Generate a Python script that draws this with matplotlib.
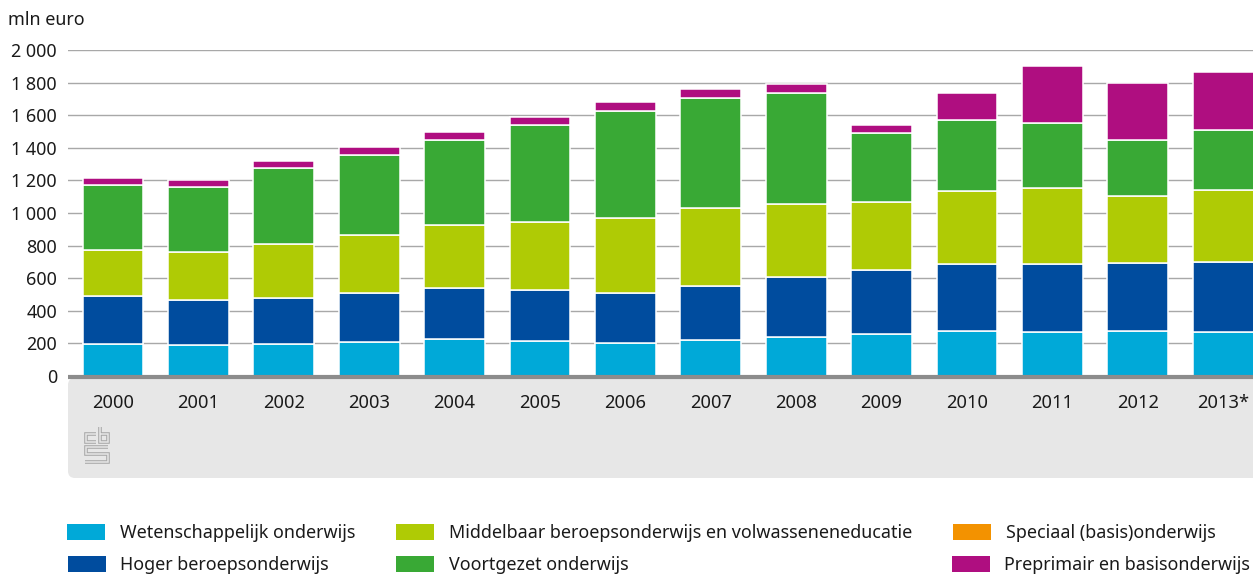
import matplotlib
matplotlib.use('Agg')
import numpy as np
import matplotlib.pyplot as plt
from matplotlib.patches import FancyBboxPatch, Rectangle
from matplotlib.lines import Line2D
from matplotlib.transforms import IdentityTransform

plt.rcParams['font.family'] = ['Noto Sans', 'DejaVu Sans']

years = ['2000', '2001', '2002', '2003', '2004', '2005', '2006', '2007', '2008', '2009', '2010', '2011', '2012', '2013*']
wetenschappelijk = [195, 188, 197, 210, 228, 215, 205, 220, 242, 260, 277, 272, 275, 270]
hoger = [295, 277, 283, 300, 312, 310, 307, 333, 363, 388, 411, 415, 417, 430]
middelbaar = [285, 295, 332, 357, 388, 422, 455, 477, 450, 419, 444, 468, 411, 440]
voortgezet = [397, 398, 463, 491, 517, 591, 659, 675, 680, 423, 436, 396, 343, 371]
speciaal = [0, 0, 0, 0, 0, 0, 0, 0, 0, 0, 0, 0, 0, 0]
preprimair = [43, 42, 45, 47, 50, 52, 54, 55, 55, 50, 167, 349, 354, 354]
yticks = [0, 200, 400, 600, 800, 1000, 1200, 1400, 1600, 1800, 2000]
yticklabels = ['0', '200', '400', '600', '800', '1 000', '1 200', '1 400', '1 600', '1 800', '2 000']

series = [('Wetenschappelijk onderwijs', wetenschappelijk, '#00a9d8'),
          ('Hoger beroepsonderwijs', hoger, '#004c9e'),
          ('Middelbaar beroepsonderwijs en volwasseneneducatie', middelbaar, '#afcb05'),
          ('Voortgezet onderwijs', voortgezet, '#39a935'),
          ('Speciaal (basis)onderwijs', speciaal, '#f39200'),
          ('Preprimair en basisonderwijs', preprimair, '#af0e80')]

W, H = 1253, 574
fig = plt.figure(figsize=(W / 100, H / 100), dpi=100)

def fx(px):
    return px / W

def fy(px):
    return 1 - px / H

# grey panel below the axis, in pixels
panel = FancyBboxPatch((68, H - 478), 1300, 100, boxstyle='round,pad=0,rounding_size=7',
                       transform=IdentityTransform(), facecolor='#e7e7e7', edgecolor='none', zorder=0)
fig.add_artist(panel)

ax = fig.add_axes([fx(68), fy(376), fx(1253 - 68), 326 / H])
x = np.arange(len(years))
bottom = np.zeros(len(years))
for name, vals, col in series:
    if sum(vals) > 0:
        ax.bar(x, vals, 0.71, bottom=bottom, color=col, edgecolor='white', linewidth=1.1, zorder=3)
    bottom += np.array(vals)

ax.set_xlim((68 - 113) / 85.4, (1253 - 113) / 85.4)
ax.set_ylim(0, 2000)
ax.set_yticks(yticks)
ax.set_yticklabels(yticklabels)
ax.set_xticks(x)
ax.set_xticklabels(years)
ax.tick_params(axis='y', length=0, pad=8, labelsize=12.9, labelcolor='#1a1a1a')
ax.tick_params(axis='x', length=0, pad=12, labelsize=13.2, labelcolor='#1a1a1a')
ax.grid(axis='y', color='#a8a8a8', lw=1, zorder=1)
ax.set_axisbelow(True)
for s in ['top', 'right', 'left']:
    ax.spines[s].set_visible(False)
ax.spines['bottom'].set_color('#8c8c8c')
ax.spines['bottom'].set_linewidth(3)
ax.spines['bottom'].set_position(('outward', 1))
ax.spines['bottom'].set_capstyle('butt')
ax.spines['bottom'].set_zorder(5)
ax.patch.set_alpha(0)

fig.text(fx(8), fy(20), 'mln euro', fontsize=12.9, color='#1a1a1a', va='center', ha='left')

# cbs logo
logo = [[(96, 433.5), (85.5, 433.5), (85.5, 442), (96, 442)],
        [(99.5, 427), (99.5, 442), (107.5, 442), (107.5, 433.5), (99.5, 433.5)],
        [(108, 447), (85.5, 447), (85.5, 454), (107.5, 454), (107.5, 461.5), (85, 461.5)]]
for pts in logo:
    xs = [fx(p[0]) for p in pts]
    ys = [fy(p[1]) for p in pts]
    fig.add_artist(Line2D(xs, ys, color='#a8a8a8', lw=2.6, solid_capstyle='butt', solid_joinstyle='miter', transform=fig.transFigure))
    fig.add_artist(Line2D(xs, ys, color='#e7e7e7', lw=1.1, solid_capstyle='butt', solid_joinstyle='miter', transform=fig.transFigure))

# legend
legend_pos = [(67, 532), (68, 564), (396, 532), (396, 564), (953, 532), (952, 564)]
text_x = [120, 120, 449, 449, 1006, 1004]
for (name, vals, col), (lx, ly), tx in zip(series, legend_pos, text_x):
    fig.add_artist(Rectangle((fx(lx), fy(ly + 8)), 38 / W, 16 / H, transform=fig.transFigure, facecolor=col, edgecolor='none'))
    fig.text(fx(tx), fy(ly + 1), name, fontsize=12.9, color='#1a1a1a', va='center', ha='left')

fig.savefig('out.png', dpi=100)
